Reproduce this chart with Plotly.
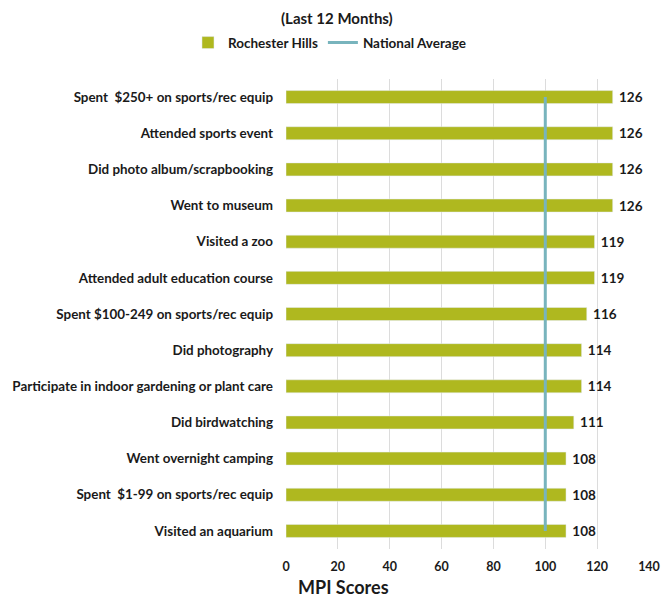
import plotly.graph_objects as go

# Market Potential Index by activity (last 12 months)
activities = [
    "Spent  $250+ on sports/rec equip",
    "Attended sports event",
    "Did photo album/scrapbooking",
    "Went to museum",
    "Visited a zoo",
    "Attended adult education course",
    "Spent $100-249 on sports/rec equip",
    "Did photography",
    "Participate in indoor gardening or plant care",
    "Did birdwatching",
    "Went overnight camping",
    "Spent  $1-99 on sports/rec equip",
    "Visited an aquarium",
]
rochester_hills = [126, 126, 126, 126, 119, 119, 116, 114, 114, 111, 108, 108, 108]
national_average = 100
x_ticks = [0, 20, 40, 60, 80, 100, 120, 140]

FONT = "Lato"
BAR_COLOR = "#afb81f"
LINE_COLOR = "#78b4bd"
TEXT_COLOR = "#1a1a1a"

fig = go.Figure()

fig.add_trace(go.Bar(
    name="<b>Rochester Hills</b>",
    x=rochester_hills,
    y=activities,
    orientation="h",
    marker=dict(color=BAR_COLOR),
    text=[f"<b>\u00a0{v}</b>" for v in rochester_hills],
    textposition="outside",
    constraintext="none",
    textfont=dict(family=FONT, size=13.5, color=TEXT_COLOR),
    cliponaxis=False,
))

fig.add_trace(go.Scatter(
    name="<b>National Average</b>",
    x=[national_average, national_average],
    y=[activities[0], activities[-1]],
    mode="lines",
    line=dict(color=LINE_COLOR, width=3),
))

fig.update_layout(
    width=669,
    height=601,
    paper_bgcolor="white",
    plot_bgcolor="white",
    margin=dict(l=286, r=20, t=79, b=52, autoexpand=False),
    bargap=0.64,
    font=dict(family=FONT, color=TEXT_COLOR),
    showlegend=True,
    legend=dict(
        orientation="h",
        x=-0.27, xref="paper",
        y=1.077, yref="paper",
        xanchor="left", yanchor="middle",
        font=dict(family=FONT, size=13.5, color=TEXT_COLOR),
        itemwidth=30,
        traceorder="normal",
    ),
    xaxis=dict(
        range=[0, 140],
        tickvals=x_ticks,
        ticktext=[f"<b>{t}</b>" for t in x_ticks],
        showgrid=True,
        gridcolor="#dcdcdc",
        gridwidth=1,
        zeroline=False,
        showline=False,
        automargin=False,
        tickfont=dict(family=FONT, size=12.5, color=TEXT_COLOR),
        ticks="",
        ticklabelstandoff=8,
    ),
    yaxis=dict(
        range=[len(activities) - 0.5, -0.5],
        showgrid=False,
        zeroline=False,
        showline=False,
        automargin=False,
        ticks="",
        ticklabelstandoff=12,
        tickfont=dict(family=FONT, size=13.4, color=TEXT_COLOR),
        tickvals=activities,
        ticktext=[f"<b>{a}</b>" for a in activities],
    ),
    annotations=[
        dict(
            text="<b>(Last 12 Months)</b>",
            x=0.14, xref="paper", xanchor="center",
            y=1.13, yref="paper", yanchor="middle",
            showarrow=False,
            font=dict(family=FONT, size=15, color=TEXT_COLOR),
        ),
        dict(
            text="<b>MPI Scores</b>",
            x=0.028, xref="paper", xanchor="left",
            y=-0.1095, yref="paper", yanchor="bottom",
            showarrow=False,
            font=dict(family=FONT, size=18, color=TEXT_COLOR),
        ),
    ],
)

fig.write_html("out.html")
